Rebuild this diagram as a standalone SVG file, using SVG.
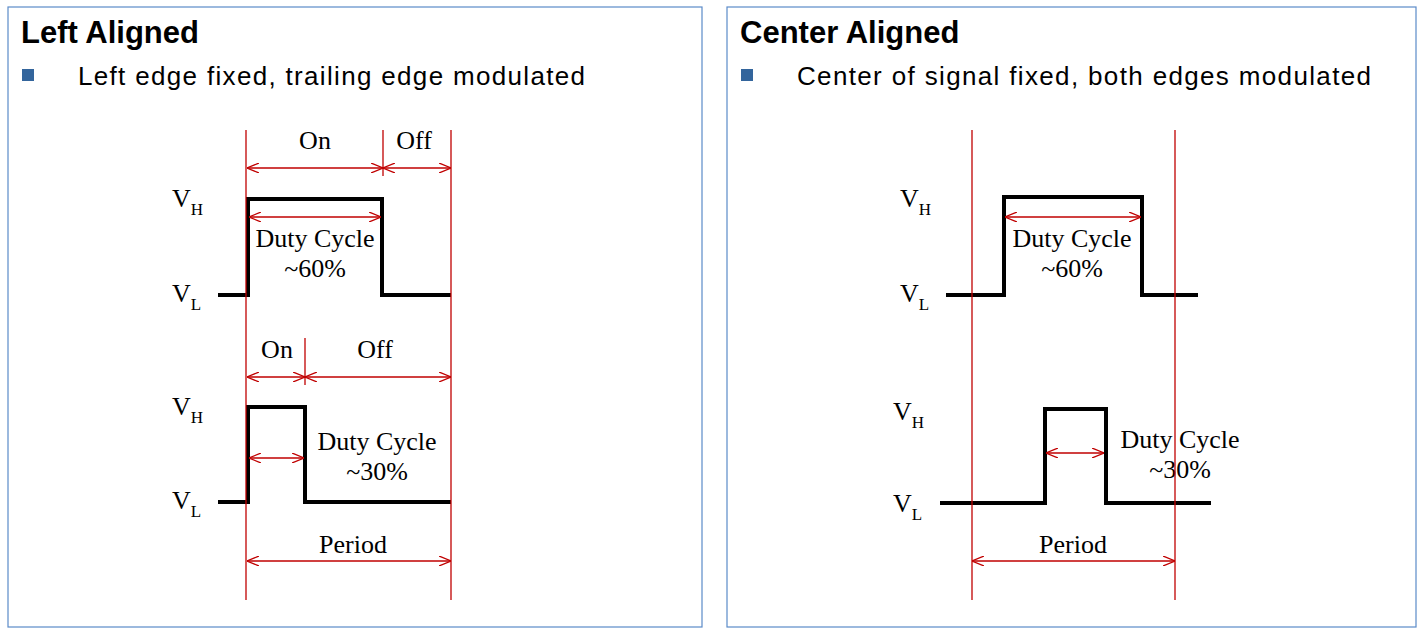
<svg xmlns="http://www.w3.org/2000/svg" width="1418" height="629" viewBox="0 0 1418 629">
<style>
.box{fill:#fff;stroke:#5b8bc9;stroke-width:1.2}
.ttl{font:bold 31px "Liberation Sans",Arial,sans-serif;fill:#000}
.bul{font:26px "Liberation Sans",Arial,sans-serif;fill:#000}
.sq{fill:#33659c}
.t{font:26px "Liberation Serif","Times New Roman",serif;fill:#000;text-anchor:middle}
.v{font:26px "Liberation Serif","Times New Roman",serif;fill:#000}
.sub{font-size:17px}
.sig{fill:none;stroke:#000;stroke-width:4;stroke-linejoin:miter}
.red{stroke:#c00000;stroke-width:1.3;fill:none}
.arr{stroke:#c00000;stroke-width:1.3;fill:none;marker-start:url(#a);marker-end:url(#a)}
</style>
<defs>
<marker id="a" viewBox="0 0 12 10" refX="12" refY="5" markerWidth="12" markerHeight="10" markerUnits="userSpaceOnUse" orient="auto-start-reverse">
<path d="M0,0 L12,5 L0,10" fill="none" stroke="#c00000" stroke-width="1.3"/>
</marker>
</defs>
<g id="left-panel">
<rect class="box" x="8" y="7" width="694" height="620"/>
<text class="ttl" x="21" y="43">Left Aligned</text>
<rect class="sq" x="22" y="69" width="12" height="12"/>
<text class="bul" x="78" y="85" textLength="507">Left edge fixed, trailing edge modulated</text>
</g>
<g id="right-panel">
<rect class="box" x="727" y="7" width="689" height="620"/>
<text class="ttl" x="740" y="43">Center Aligned</text>
<rect class="sq" x="741" y="69" width="12" height="12"/>
<text class="bul" x="797" y="85" textLength="574">Center of signal fixed, both edges modulated</text>
</g>
<g id="left-signals">
<path class="sig" d="M218,295 H248 V199 H382 V295 H451"/>
<path class="sig" d="M218,502 H248 V407 H305 V502 H451"/>
<text class="v" x="172" y="207">V<tspan class="sub" dy="8">H</tspan></text>
<text class="v" x="172" y="302">V<tspan class="sub" dy="8">L</tspan></text>
<text class="v" x="172" y="415">V<tspan class="sub" dy="8">H</tspan></text>
<text class="v" x="172" y="509">V<tspan class="sub" dy="8">L</tspan></text>
<text class="t" x="315" y="149">On</text>
<text class="t" x="414" y="149">Off</text>
<text class="t" x="315" y="247">Duty Cycle</text>
<text class="t" x="315" y="277">~60%</text>
<text class="t" x="277" y="358">On</text>
<text class="t" x="375" y="358">Off</text>
<text class="t" x="377" y="450">Duty Cycle</text>
<text class="t" x="377" y="480">~30%</text>
<text class="t" x="353" y="553">Period</text>
</g>
<g id="right-signals">
<path class="sig" d="M946,295 H1004 V197 H1142 V295 H1198"/>
<path class="sig" d="M940,503 H1045 V409 H1106 V503 H1211"/>
<text class="v" x="900" y="207">V<tspan class="sub" dy="8">H</tspan></text>
<text class="v" x="900" y="302">V<tspan class="sub" dy="8">L</tspan></text>
<text class="v" x="893" y="420">V<tspan class="sub" dy="8">H</tspan></text>
<text class="v" x="893" y="512">V<tspan class="sub" dy="8">L</tspan></text>
<text class="t" x="1072" y="247">Duty Cycle</text>
<text class="t" x="1072" y="277">~60%</text>
<text class="t" x="1180" y="448">Duty Cycle</text>
<text class="t" x="1180" y="478">~30%</text>
<text class="t" x="1073" y="553">Period</text>
</g>
<g id="connectors">
<line class="red" x1="246" y1="130" x2="246" y2="600"/>
<line class="red" x1="451" y1="130" x2="451" y2="600"/>
<line class="red" x1="383" y1="130" x2="383" y2="176"/>
<line class="red" x1="305" y1="338" x2="305" y2="385"/>
<line class="arr" x1="247" y1="168" x2="383" y2="168"/>
<line class="arr" x1="383" y1="168" x2="451" y2="168"/>
<line class="arr" x1="249" y1="217" x2="381" y2="217"/>
<line class="arr" x1="247" y1="377" x2="305" y2="377"/>
<line class="arr" x1="305" y1="377" x2="451" y2="377"/>
<line class="arr" x1="249" y1="458" x2="304" y2="458"/>
<line class="arr" x1="247" y1="561" x2="451" y2="561"/>
<line class="red" x1="972" y1="130" x2="972" y2="600"/>
<line class="red" x1="1175" y1="130" x2="1175" y2="600"/>
<line class="arr" x1="1005" y1="217" x2="1141" y2="217"/>
<line class="arr" x1="1046" y1="453" x2="1104" y2="453"/>
<line class="arr" x1="972" y1="561" x2="1175" y2="561"/>
</g>
</svg>
